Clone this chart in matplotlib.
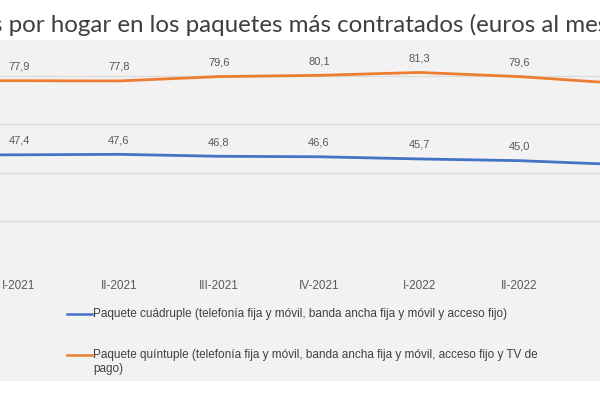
import matplotlib
matplotlib.use("Agg")
import matplotlib.pyplot as plt
from matplotlib.lines import Line2D
from matplotlib.patches import Rectangle

# Data (first and last periods are only partly visible in the crop; estimated)
categories = ["IV-2020", "I-2021", "II-2021", "III-2021", "IV-2021", "I-2022", "II-2022", "III-2022"]
cuadruple = [47.3, 47.4, 47.6, 46.8, 46.6, 45.7, 45.0, 43.4]
quintuple = [77.9, 77.9, 77.8, 79.6, 80.1, 81.3, 79.6, 76.8]
labels_cuadruple = ["", "47,4", "47,6", "46,8", "46,6", "45,7", "45,0", ""]
labels_quintuple = ["", "77,9", "77,8", "79,6", "80,1", "81,3", "79,6", ""]
legend_cuadruple = "Paquete cuádruple (telefonía fija y móvil, banda ancha fija y móvil y acceso fijo)"
legend_quintuple_1 = "Paquete quíntuple (telefonía fija y móvil, banda ancha fija y móvil, acceso fijo y TV de"
legend_quintuple_2 = "pago)"
title = "s por hogar en los paquetes más contratados (euros al mes)"

BLUE = "#4472C4"
ORANGE = "#ED7D31"
W, H = 600, 400

fig = plt.figure(figsize=(6, 4), dpi=100, facecolor="white")
# gray panel
fig.patches.append(Rectangle((0, (H - 381) / H), 1, (381 - 40) / H,
                             transform=fig.transFigure, facecolor="#f2f2f2",
                             edgecolor="none", zorder=-10))

ax = fig.add_axes([0, (H - 270) / H, 1, (270 - 40) / H])
ax.set_zorder(1)
ax.set_facecolor("none")
x = list(range(len(categories)))
ax.set_xticks(x)
ax.set_xticklabels(categories)
ax.set_yticks([0, 20, 40, 60, 80])
ax.set_xlim(0.81, 6.81)
ax.set_ylim(0, (270 - 40) / 2.43)
ax.yaxis.grid(True, color="#dcdcdc", lw=1)
ax.set_axisbelow(True)
for s in ax.spines.values():
    s.set_visible(False)
ax.tick_params(axis="y", left=False, labelleft=False)
ax.tick_params(axis="x", length=0, pad=7, labelsize=8.5, labelcolor="#595959")
for t in ax.get_xticklabels():
    t.set_fontfamily("Liberation Sans")

ax.plot(x, cuadruple, color=BLUE, lw=2, solid_capstyle="round")
ax.plot(x, quintuple, color=ORANGE, lw=2, solid_capstyle="round")

for xi, v, lab in zip(x, cuadruple, labels_cuadruple):
    if lab:
        ax.annotate(lab, (xi, v), xytext=(0, 14), textcoords="offset pixels",
                    ha="center", va="center", fontsize=8, color="#595959",
                    family="Liberation Sans")
for xi, v, lab in zip(x, quintuple, labels_quintuple):
    if lab:
        ax.annotate(lab, (xi, v), xytext=(0, 14), textcoords="offset pixels",
                    ha="center", va="center", fontsize=8, color="#595959",
                    family="Liberation Sans")

# title (cropped)
fig.text(-8 / W, 1 - 25 / H, title, ha="left", va="center", fontsize=17.4,
         family="Lato", color="#3f3f3f")

# legend
def leg_line(y, color):
    fig.add_artist(Line2D([67 / W, 92 / W], [1 - y / H, 1 - y / H],
                          transform=fig.transFigure, color=color, lw=1.8))

LFS = 8.45
leg_line(314, BLUE)
fig.text(93 / W, 1 - 314 / H, legend_cuadruple, ha="left", va="center",
         fontsize=LFS, family="Liberation Sans", color="#404040")
leg_line(355, ORANGE)
fig.text(93 / W, 1 - 355 / H, legend_quintuple_1, ha="left", va="center",
         fontsize=LFS, family="Liberation Sans", color="#404040")
fig.text(93 / W, 1 - 369 / H, legend_quintuple_2, ha="left", va="center",
         fontsize=LFS, family="Liberation Sans", color="#404040")

fig.savefig("out.png", dpi=100, facecolor="white")
